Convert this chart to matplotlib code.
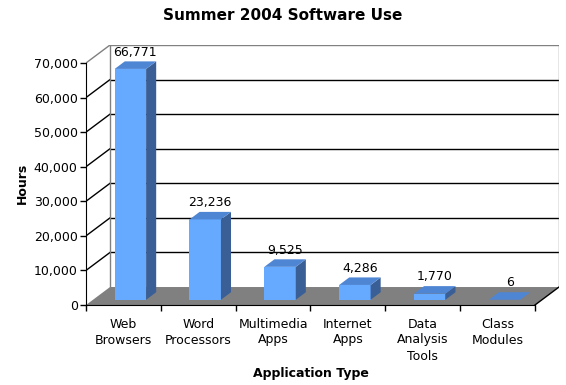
import matplotlib.pyplot as plt
from matplotlib.patches import Polygon

# %% Data
categories = [
    "Web\nBrowsers",
    "Word\nProcessors",
    "Multimedia\nApps",
    "Internet\nApps",
    "Data\nAnalysis\nTools",
    "Class\nModules",
]
hours = [66771, 23236, 9525, 4286, 1770, 6]
y_ticks = [0, 10000, 20000, 30000, 40000, 50000, 60000, 70000]

# %% Fake 3d geometry (oblique projection)
DX = 0.321  # depth shift in category units
DY = 5200  # depth shift in value units
BAR_W = 0.42
Z0, Z1 = 0.29, 0.71  # bar front/back depth fraction
FRONT = "#66aaff"
SIDE = "#3a5f96"
TOP = "#4f86d4"
WALL = "#808080"

n = len(categories)
ymax = y_ticks[-1]

fig = plt.figure(figsize=(5.66, 3.85), dpi=100)
ax = fig.add_axes([86 / 566, 80 / 385, 473 / 566, 260 / 385])
ax.set_xlim(0, n + DX)
ax.set_ylim(0, ymax + DY)

# floor
ax.add_patch(
    Polygon([(0, 0), (n, 0), (n + DX, DY), (DX, DY)], closed=True,
            facecolor=WALL, edgecolor="none", zorder=1)
)

# back wall gridlines + left wall diagonals
for v in y_ticks[1:]:
    c = WALL if v == ymax else "black"
    ax.plot([DX, n + DX], [v + DY, v + DY], color=c, lw=1, zorder=0.5)
    ax.plot([0, DX], [v, v + DY], color=c, lw=1, zorder=0.5)
ax.plot([DX, DX], [DY, ymax + DY], color=WALL, lw=1, zorder=0.5)
ax.plot([n + DX, n + DX], [DY, ymax + DY], color=WALL, lw=1, zorder=0.5)
ax.plot([n, n + DX], [0, DY], color="black", lw=1, zorder=1.5)

# bars
ddx = (Z1 - Z0) * DX
ddy = (Z1 - Z0) * DY
for i, v in enumerate(hours):
    x0 = i + 0.5 - BAR_W / 2 + Z0 * DX
    y0 = Z0 * DY
    x1 = x0 + BAR_W
    front = [(x0, y0), (x1, y0), (x1, y0 + v), (x0, y0 + v)]
    side = [(x1, y0), (x1 + ddx, y0 + ddy), (x1 + ddx, y0 + v + ddy), (x1, y0 + v)]
    top = [(x0, y0 + v), (x1, y0 + v), (x1 + ddx, y0 + v + ddy), (x0 + ddx, y0 + v + ddy)]
    for pts, col in [(front, FRONT), (side, SIDE), (top, TOP)]:
        ax.add_patch(Polygon(pts, closed=True, facecolor=col, edgecolor="none", zorder=2))
    ax.annotate(
        f"{v:,}",
        xy=(x0 + BAR_W / 2 + ddx / 2, y0 + v + ddy),
        xytext=(0, 2),
        textcoords="offset points",
        ha="center",
        va="bottom",
        fontsize=9,
        zorder=3,
    )

# %% Axes styling
for s in ["top", "right"]:
    ax.spines[s].set_visible(False)
ax.spines["left"].set_bounds(0, ymax)
ax.spines["bottom"].set_bounds(0, n)
ax.spines["left"].set_zorder(4)
ax.spines["bottom"].set_zorder(4)

ax.set_yticks(y_ticks)
ax.set_yticklabels([f"{v:,}" for v in y_ticks])
ax.tick_params(axis="y", direction="out", length=4, width=1, pad=2, labelsize=9)

ax.set_xticks(range(n + 1))
ax.set_xticklabels([])
ax.set_xticks([i + 0.5 for i in range(n)], minor=True)
ax.set_xticklabels(categories, minor=True)
ax.tick_params(axis="x", which="major", direction="out", length=4, width=1)
ax.tick_params(axis="x", which="minor", length=0, pad=9, labelsize=9)
for t in ax.get_xticklabels(minor=True):
    t.set_linespacing(1.3)

ax.text(3 / (n + DX), -0.238, "Application Type", transform=ax.transAxes,
        ha="center", va="top", fontsize=9, fontweight="bold")
ax.text(-0.135, 0.469, "Hours", transform=ax.transAxes, rotation=90,
        ha="center", va="center", fontsize=9, fontweight="bold")
fig.text(0.5, 1 - 15 / 385, "Summer 2004 Software Use", ha="center", va="center",
         fontsize=11, fontweight="bold")

fig.savefig("out.png", dpi=100)
